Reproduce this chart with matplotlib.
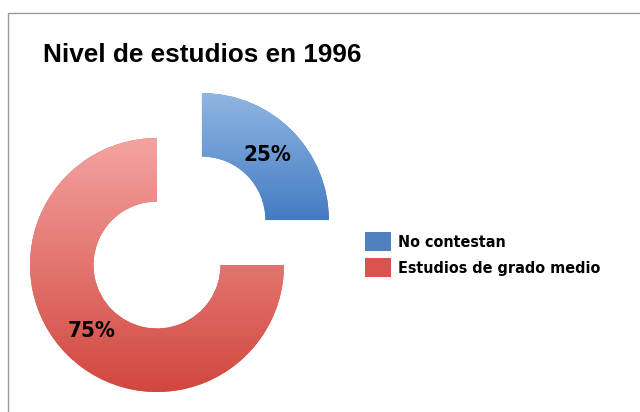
import numpy as np
import matplotlib
matplotlib.use("Agg")
import matplotlib.pyplot as plt
from matplotlib.colors import LinearSegmentedColormap
from matplotlib.lines import Line2D

# data
labels = ['No contestan', 'Estudios de grado medio']
values = [25, 75]
title = 'Nivel de estudios en 1996'

legend_colors = ['#4F81BD', '#D9534F']
grad_top = ['#90B6E3', '#F4A3A0']
grad_bottom = ['#447CC2', '#D1473F']

W, H = 640, 412
R = 127.0          # donut radius in px
cx, cy = 157, 147  # red donut centre, px from bottom-left

fig = plt.figure(figsize=(W / 100, H / 100), dpi=100)
ax = fig.add_axes([0, 0, 1, 1])
ax.axis('off')

label_font = ['DejaVu Sans']

wedges, texts, autotexts = ax.pie(
    values, colors=legend_colors, startangle=90, counterclock=False,
    explode=[0.5, 0], radius=1, autopct='%1.0f%%', pctdistance=0.73,
    wedgeprops=dict(width=0.5, linewidth=0),
    textprops=dict(fontsize=16, fontweight='bold', family=label_font,
                   fontstretch='condensed', color='black'))
ax.set_xlim(-cx / R, (W - cx) / R)
ax.set_ylim(-cy / R, (H - cy) / R)
ax.set_aspect('equal')

# vertical gradient fill clipped to each wedge
grad = np.linspace(0, 1, 256).reshape(-1, 1)
inv = ax.transData.inverted()
for w, top, bot in zip(wedges, grad_top, grad_bottom):
    cmap = LinearSegmentedColormap.from_list('g', [bot, top])
    ext = w.get_window_extent()
    (x0, y0), (x1, y1) = inv.transform([[ext.x0, ext.y0], [ext.x1, ext.y1]])
    im = ax.imshow(grad, cmap=cmap, extent=[x0, x1, y0, y1],
                   origin='lower', aspect='auto', zorder=w.get_zorder() + 0.1,
                   vmin=0, vmax=1)
    im.set_clip_path(w)
for t in autotexts:
    t.set_zorder(5)

ax.set_xlim(-cx / R, (W - cx) / R)
ax.set_ylim(-cy / R, (H - cy) / R)

fig.legend(wedges, labels, loc='upper left',
           bbox_to_anchor=(365 / W, 1 - 232 / H), borderaxespad=0, borderpad=0,
           frameon=False, handlelength=1.63, handleheight=1.44,
           handletextpad=0.44, labelspacing=0.44,
           prop=dict(family=label_font, weight='bold', stretch='condensed', size=11.5))

fig.text(43 / W, 1 - 62 / H, title, fontsize=18.8, fontweight='bold',
         family='Liberation Sans', va='baseline', ha='left')

# chart frame (only top and left edges visible)
fig.add_artist(Line2D([8 / W, 8 / W, 1], [0, 1 - 13 / H, 1 - 13 / H],
                      transform=fig.transFigure, color='#9A9A9A', lw=1))

fig.savefig('out.png', dpi=100)
